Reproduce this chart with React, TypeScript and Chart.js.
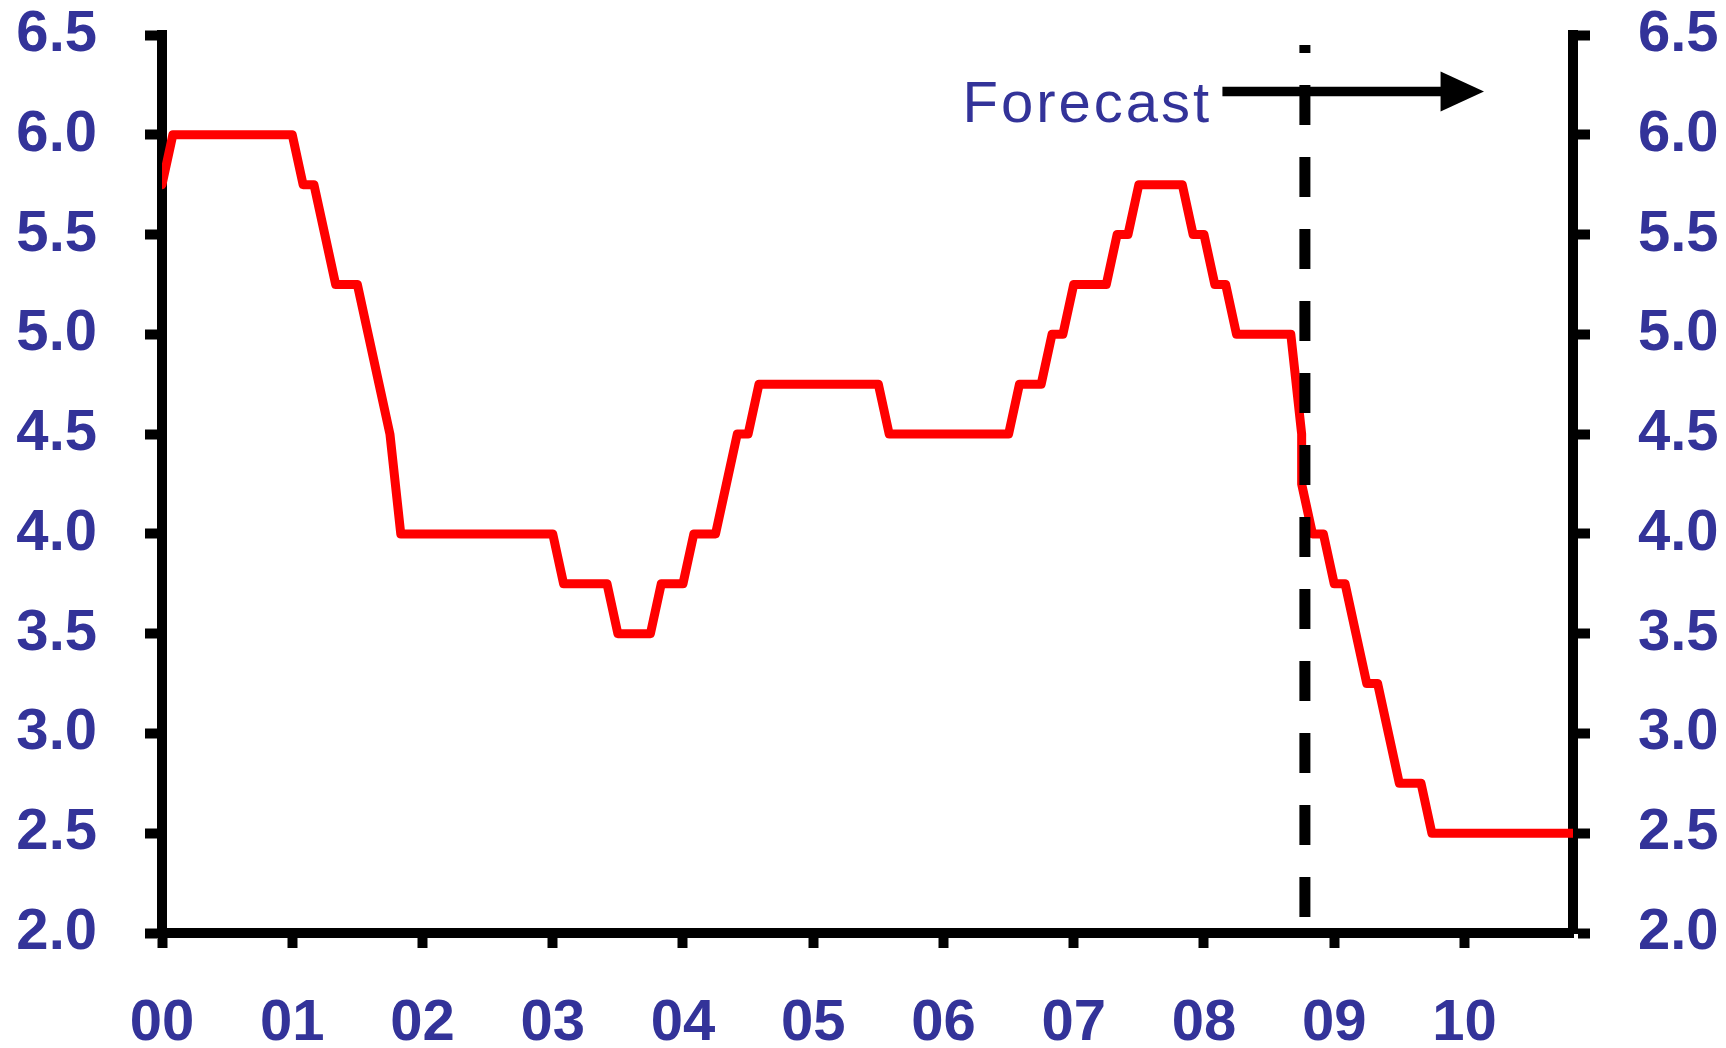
import React, { useEffect, useRef } from "react";
import { Chart, registerables } from "chart.js";

Chart.register(...registerables);

// ---- Data ----
// x axis: months since Jan 2000 (0 = Jan 2000)
const yearLabels = ["00", "01", "02", "03", "04", "05", "06", "07", "08", "09", "10"];
const yearTickMonths = [0, 12, 24, 36, 48, 60, 72, 84, 96, 108, 120];
const lastMonth = 130;

// Policy rate, %, month-end, Jan 2000 .. Oct 2008 (actual)
const actualRate = [
  // 2000
  5.75, 6.0, 6.0, 6.0, 6.0, 6.0, 6.0, 6.0, 6.0, 6.0, 6.0, 6.0,
  // 2001
  6.0, 5.75, 5.75, 5.5, 5.25, 5.25, 5.25, 5.0, 4.75, 4.5, 4.0, 4.0,
  // 2002
  4.0, 4.0, 4.0, 4.0, 4.0, 4.0, 4.0, 4.0, 4.0, 4.0, 4.0, 4.0,
  // 2003
  4.0, 3.75, 3.75, 3.75, 3.75, 3.75, 3.5, 3.5, 3.5, 3.5, 3.75, 3.75,
  // 2004
  3.75, 4.0, 4.0, 4.0, 4.25, 4.5, 4.5, 4.75, 4.75, 4.75, 4.75, 4.75,
  // 2005
  4.75, 4.75, 4.75, 4.75, 4.75, 4.75, 4.75, 4.5, 4.5, 4.5, 4.5, 4.5,
  // 2006
  4.5, 4.5, 4.5, 4.5, 4.5, 4.5, 4.5, 4.75, 4.75, 4.75, 5.0, 5.0,
  // 2007
  5.25, 5.25, 5.25, 5.25, 5.5, 5.5, 5.75, 5.75, 5.75, 5.75, 5.75, 5.5,
  // 2008 (Jan..Oct)
  5.5, 5.25, 5.25, 5.0, 5.0, 5.0, 5.0, 5.0, 5.0, 4.5,
];

// Forecast, Oct 2008 .. Nov 2010
const forecastStartMonth = 105;
const forecastRate = [
  4.25, 4.0, 4.0, 3.75, 3.75, 3.5, 3.25, 3.25, 3.0, 2.75, 2.75, 2.75,
  2.5, 2.5, 2.5, 2.5, 2.5, 2.5, 2.5, 2.5, 2.5, 2.5, 2.5, 2.5, 2.5, 2.5,
];

const yMin = 2.0;
const yMax = 6.5;
const yStep = 0.5;

// Annotation positions in data units
const forecastLineX = 105.3;
const forecastLineTop = 6.45;
const forecastLineBottom = 2.08;
const arrowY = 6.217;
const arrowStartX = 97.7;
const arrowHeadBaseX = 117.8;
const arrowTipX = 121.8;
const forecastText = "Forecast";
const forecastTextRightX = 96.75;
const forecastTextBaselineY = 6.064;

// ---- Styles ----
const LABEL_COLOR = "#333399";
const FONT_FAMILY = '"Liberation Sans", Arial, Helvetica, sans-serif';
const W = 1726;
const H = 1048;
const PLOT_TOP = 35;
const PLOT_LEFT = 162;
const PLOT_RIGHT = 1573;
const PLOT_BOTTOM = 933;

const forecastPlugin = {
  id: "forecastMarker",
  afterDatasetsDraw(chart: any) {
    const { ctx } = chart;
    const x = chart.scales.x;
    const y = chart.scales.y;
    ctx.save();
    // dashed vertical line
    const lx = x.getPixelForValue(forecastLineX);
    ctx.strokeStyle = "#000000";
    ctx.lineWidth = 11;
    ctx.lineCap = "butt";
    ctx.setLineDash([40, 32]);
    ctx.beginPath();
    ctx.moveTo(lx, y.getPixelForValue(forecastLineBottom));
    ctx.lineTo(lx, y.getPixelForValue(forecastLineTop));
    ctx.stroke();
    ctx.setLineDash([]);

    // arrow
    const ay = y.getPixelForValue(arrowY);
    const ax0 = x.getPixelForValue(arrowStartX);
    const axb = x.getPixelForValue(arrowHeadBaseX);
    const axt = x.getPixelForValue(arrowTipX);
    ctx.lineWidth = 9.5;
    ctx.beginPath();
    ctx.moveTo(ax0, ay);
    ctx.lineTo(axb + 1, ay);
    ctx.stroke();
    ctx.fillStyle = "#000000";
    ctx.beginPath();
    ctx.moveTo(axb, ay - 20);
    ctx.lineTo(axt, ay);
    ctx.lineTo(axb, ay + 20);
    ctx.closePath();
    ctx.fill();

    // text
    ctx.font = `58px ${FONT_FAMILY}`;
    ctx.fillStyle = LABEL_COLOR;
    ctx.textAlign = "right";
    ctx.textBaseline = "alphabetic";
    try {
      (ctx as any).letterSpacing = "3px";
    } catch (e) {}
    ctx.fillText(
      forecastText,
      x.getPixelForValue(forecastTextRightX),
      y.getPixelForValue(forecastTextBaselineY)
    );
    ctx.restore();
  },
};

export default function App() {
  const canvasRef = useRef<HTMLCanvasElement | null>(null);

  useEffect(() => {
    if (!canvasRef.current) return;
    // one continuous line: actual, then forecast (sharing the Oct-2008 month)
    const ratePoints = [
      ...actualRate.map((v, i) => ({ x: i, y: v })),
      ...forecastRate.map((v, i) => ({ x: forecastStartMonth + i, y: v })),
    ];

    const tickFont = { family: FONT_FAMILY, size: 58, weight: "bold" as const };

    const gridStyle = (len: number) => ({
      display: true,
      drawOnChartArea: false,
      drawTicks: true,
      tickLength: len,
      tickWidth: 10,
      tickColor: "#000000",
    });
    const borderStyle = { display: true, color: "#000000", width: 10 };

    const chart = new Chart(canvasRef.current, {
      type: "line",
      data: {
        datasets: [
          {
            label: "Rate",
            data: ratePoints,
            borderColor: "#ff0000",
            borderWidth: 9,
            pointRadius: 0,
            tension: 0,
            borderJoinStyle: "round",
            borderCapStyle: "round",
            fill: false,
          },
        ],
      },
      options: {
        responsive: false,
        animation: false,
        devicePixelRatio: 1,
        layout: { padding: { top: PLOT_TOP, left: 0, right: 0, bottom: 0 } },
        plugins: {
          legend: { display: false },
          tooltip: { enabled: false },
        },
        scales: {
          x: {
            type: "linear",
            position: "bottom",
            min: 0,
            max: lastMonth,
            afterBuildTicks: (scale: any) => {
              scale.ticks = yearTickMonths.map((v) => ({ value: v }));
            },
            afterFit: (scale: any) => {
              scale.height = H - PLOT_BOTTOM;
              scale.paddingLeft = 0;
              scale.paddingRight = 0;
            },
            ticks: {
              autoSkip: false,
              maxRotation: 0,
              font: tickFont,
              color: LABEL_COLOR,
              padding: 41,
              callback: (v: any) => {
                const idx = yearTickMonths.indexOf(Number(v));
                return idx >= 0 ? yearLabels[idx] : "";
              },
            },
            grid: gridStyle(15),
            border: borderStyle,
          },
          y: {
            type: "linear",
            position: "left",
            min: yMin,
            max: yMax,
            afterFit: (scale: any) => {
              scale.width = PLOT_LEFT;
              scale.paddingTop = 0;
              scale.paddingBottom = 0;
            },
            ticks: {
              stepSize: yStep,
              font: tickFont,
              color: LABEL_COLOR,
              padding: 48,
              callback: (v: any) => Number(v).toFixed(1),
            },
            grid: gridStyle(17),
            border: borderStyle,
          },
          y2: {
            type: "linear",
            position: "right",
            display: true,
            min: yMin,
            max: yMax,
            afterFit: (scale: any) => {
              scale.width = W - PLOT_RIGHT;
              scale.paddingTop = 0;
              scale.paddingBottom = 0;
            },
            ticks: {
              stepSize: yStep,
              font: tickFont,
              color: LABEL_COLOR,
              padding: 48,
              callback: (v: any) => Number(v).toFixed(1),
            },
            grid: gridStyle(17),
            border: borderStyle,
          },
        },
      } as any,
      plugins: [forecastPlugin],
    });

    return () => {
      chart.destroy();
    };
  }, []);

  return (
    <div
      style={{
        position: "absolute",
        left: 0,
        top: 0,
        width: W,
        height: H,
        background: "#ffffff",
      }}
    >
      <canvas
        ref={canvasRef}
        width={W}
        height={H}
        style={{ width: W, height: H, display: "block" }}
      />
    </div>
  );
}
